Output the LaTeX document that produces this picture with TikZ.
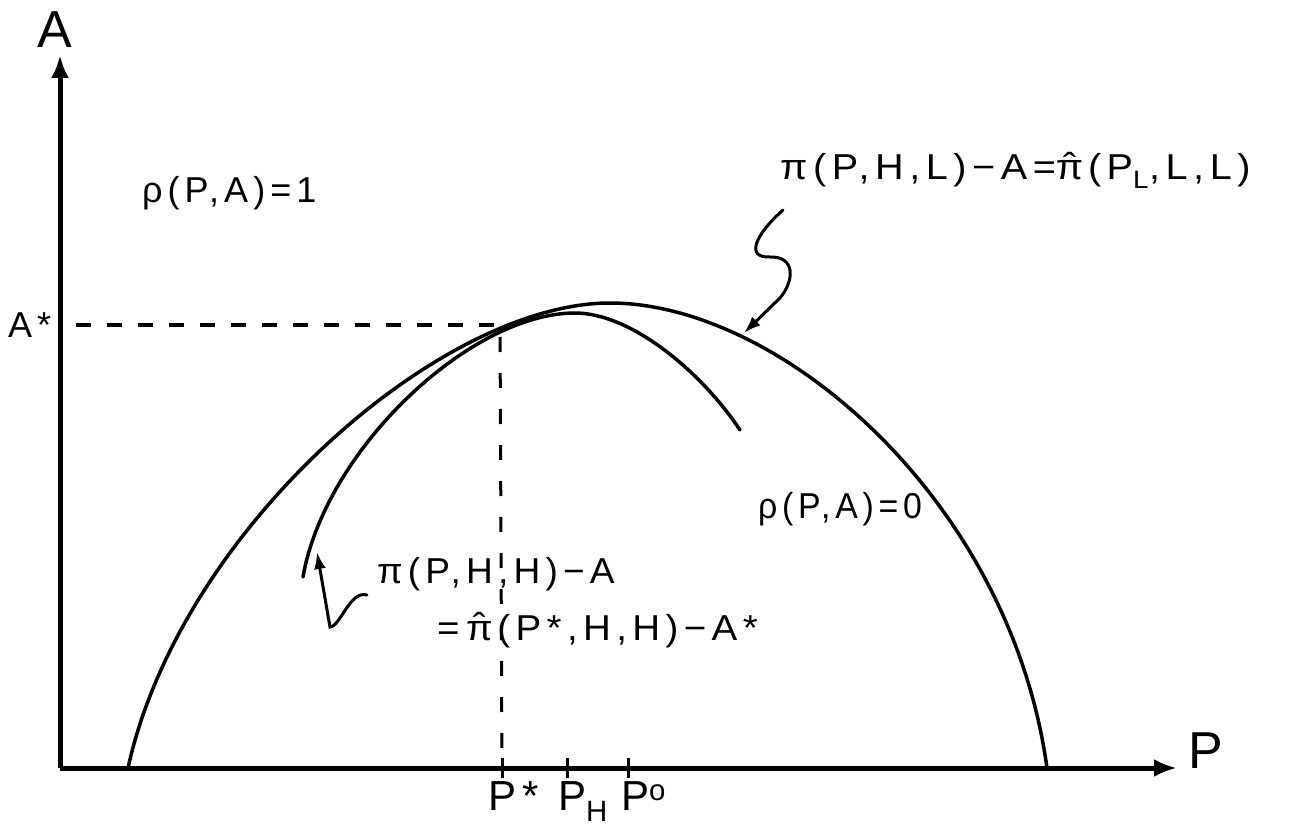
\documentclass[tikz,border=0pt]{standalone}
\usepackage{fontspec}
\setmainfont{Liberation Sans}[LetterSpace=14]
\usetikzlibrary{arrows.meta}
\newcommand\hpi{\ooalign{π\cr\hidewidth\raisebox{0.05em}{\char"02C6}\hidewidth\cr}\kern0.12em}
\begin{document}
\begin{tikzpicture}[x=1pt,y=-1pt,
 axis/.style={line width=5pt, -{Latex[length=23pt,width=18pt]}},
 curve/.style={line width=3.5pt, line cap=round, line join=round},
 guide/.style={line width=4pt, dash pattern=on 15pt off 16pt},
 pointer/.style={line width=3pt, line cap=round, -{Latex[length=17pt,width=12pt]}},
 lbl/.style={font=\fontsize{36}{40}\selectfont, inner sep=0pt},
 big/.style={font=\fontsize{52}{56}\selectfont, inner sep=0pt},
 mid/.style={font=\fontsize{42}{46}\selectfont, inner sep=0pt},
 tick/.style={line width=3pt}]
\useasboundingbox (0,0) rectangle (1291,829);
% axes
\coordinate (O) at (60,768);
\coordinate (Atop) at (60,55);
\coordinate (Pend) at (1177,768);
\draw[axis] (O) -- (Atop);
\draw[axis] (O) -- (Pend);
% guides
\coordinate (Astar) at (60,325);
\coordinate (E) at (500,325);
\coordinate (Pstar) at (502,768);
\coordinate (PH) at (567,768);
\coordinate (Po) at (628,768);
\draw[guide, dash phase=-16pt] (Astar) -- (E);
\draw[guide, line width=3pt, dash pattern=on 15pt off 21pt, dash phase=-12pt] (E) -- (Pstar);
\foreach \c in {Pstar,PH,Po} \draw[tick] ([yshift=10pt]\c) -- ([yshift=-10pt]\c);
% outer curve
\coordinate (oL) at (128,768); \coordinate (oT) at (610,303); \coordinate (oR) at (1047,768);
\draw[curve] (oL) .. controls (180,530) and (440,303) .. (oT) .. controls (780,303) and (1010,500) .. (oR);
% inner curve
\coordinate (iL) at (303,577); \coordinate (iT) at (575,313); \coordinate (iR) at (740,430);
\draw[curve] (iL) .. controls (325,450) and (470,313) .. (iT) .. controls (630,313) and (700,370) .. (iR);
% pointers
\coordinate (s1) at (783,210); \coordinate (t1) at (744,333);
\draw[pointer] (s1) .. controls (755,235) and (745,258) .. (770,257) .. controls (795,256) and (795,280) .. (780,298) -- (t1);
\coordinate (s2) at (367,595); \coordinate (t2) at (317,552);
\draw[pointer] (s2) .. controls (350,590) and (340,627) .. (330,627) -- (t2);
% labels
\node[big, anchor=base] (lA) at (55,48) {A};
\node[big, anchor=base west] (lP) at (1188,768) {P};
\node[lbl, anchor=base west] (lAs) at (8,337) {A*};
\node[mid, anchor=base west] (lPs) at (488,810) {P*};
\node[mid, anchor=base west] (lPH) at (558,810) {P\textsubscript{H}};
\node[mid, anchor=base west] (lPo) at (621,810) {P\textsuperscript{o}};
\node[lbl, anchor=base west] (r1) at (142,203) {ρ(P,A)=1};
\node[lbl, anchor=base west] (r0) at (758,518) {\scalebox{0.94}[1]{ρ(P,A)=0}};
\node[lbl, anchor=base west] (tl) at (780,180) {\scalebox{1.1}[1]{π(P,H,L)−A=\hpi(P\textsubscript{L},L,L)}};
\node[lbl, anchor=base west] (th1) at (377,583) {\scalebox{1.03}[1]{π(P,H,H)−A}};
\node[lbl, anchor=base west] (th2) at (437,640) {\scalebox{1.07}[1]{=\,\hpi(P*,H,H)−A*}};
\end{tikzpicture}
\end{document}
